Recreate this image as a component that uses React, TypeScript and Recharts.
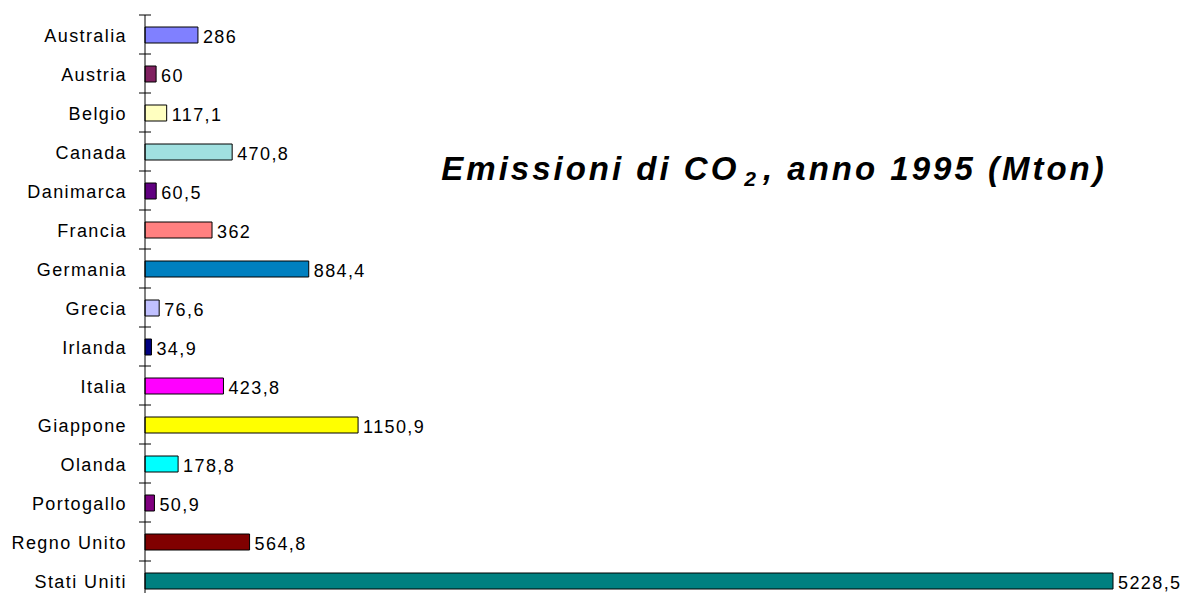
import React from "react";
import { BarChart, Bar, XAxis, YAxis, Cell, LabelList } from "recharts";

const categories = [
  "Australia", "Austria", "Belgio", "Canada", "Danimarca", "Francia", "Germania",
  "Grecia", "Irlanda", "Italia", "Giappone", "Olanda", "Portogallo", "Regno Unito", "Stati Uniti",
];
const values = [286, 60, 117.1, 470.8, 60.5, 362, 884.4, 76.6, 34.9, 423.8, 1150.9, 178.8, 50.9, 564.8, 5228.5];
const colors = [
  "#8080FF", "#802060", "#FFFFC0", "#A0E0E0", "#600080", "#FF8080", "#0080C0",
  "#C0C0FF", "#000080", "#FF00FF", "#FFFF00", "#00FFFF", "#800080", "#800000", "#008080",
];

const data = categories.map((name, i) => ({ name, value: values[i] }));

const FONT = "'Liberation Sans', Arial, sans-serif";
const AXIS_X = 145;
const HALF_BAND = 19.5;

const CategoryTick = (props: any) => {
  const { y, payload, index } = props;
  return (
    <g>
      <text x={AXIS_X - 18} y={y} dy={7.5} textAnchor="end" fontSize={18} fontFamily={FONT} fill="#000" letterSpacing={1.4}>
        {payload.value}
      </text>
      <line x1={AXIS_X - 6} x2={AXIS_X + 6} y1={y - HALF_BAND} y2={y - HALF_BAND} stroke="#000" strokeWidth={1} />
      {index === categories.length - 1 && (
        <line x1={AXIS_X - 6} x2={AXIS_X + 6} y1={y + HALF_BAND} y2={y + HALF_BAND} stroke="#000" strokeWidth={1} />
      )}
    </g>
  );
};

const ValueLabel = (props: any) => {
  const { x, y, width, height, value } = props;
  return (
    <text x={x + width + 5} y={y + height / 2} dy={7.5} textAnchor="start" fontSize={18} fontFamily={FONT} fill="#000" letterSpacing={1.4}>
      {String(value).replace(".", ",")}
    </text>
  );
};

export default function App() {
  return (
    <div style={{ position: "absolute", left: 0, top: 0, width: 1188, height: 593, overflow: "hidden", background: "#fff" }}>
      <BarChart
        layout="vertical"
        width={1188}
        height={600}
        data={data}
        margin={{ top: 15, right: 75, bottom: 0, left: 0 }}
      >
        <XAxis type="number" domain={[0, 5228.5]} hide />
        <YAxis
          type="category"
          dataKey="name"
          width={145}
          tickLine={false}
          axisLine={{ stroke: "#000", strokeWidth: 1 }}
          tick={<CategoryTick />}
          interval={0}
        />
        <Bar dataKey="value" barSize={16} stroke="#000" strokeWidth={1} isAnimationActive={false}>
          {data.map((d, i) => (
            <Cell key={d.name} fill={colors[i]} />
          ))}
          <LabelList dataKey="value" content={<ValueLabel />} />
        </Bar>
      </BarChart>
      <div
        style={{
          position: "absolute",
          left: 374,
          top: 150,
          width: 800,
          textAlign: "center",
          whiteSpace: "nowrap",
          fontFamily: FONT,
          fontWeight: "bold",
          fontStyle: "italic",
          fontSize: 33,
          letterSpacing: 3,
          color: "#000",
        }}
      >
        Emissioni di CO<span style={{ fontSize: 21, position: "relative", top: 6, marginLeft: 5, marginRight: 4 }}>2</span>, anno 1995 (Mton)
      </div>
    </div>
  );
}
